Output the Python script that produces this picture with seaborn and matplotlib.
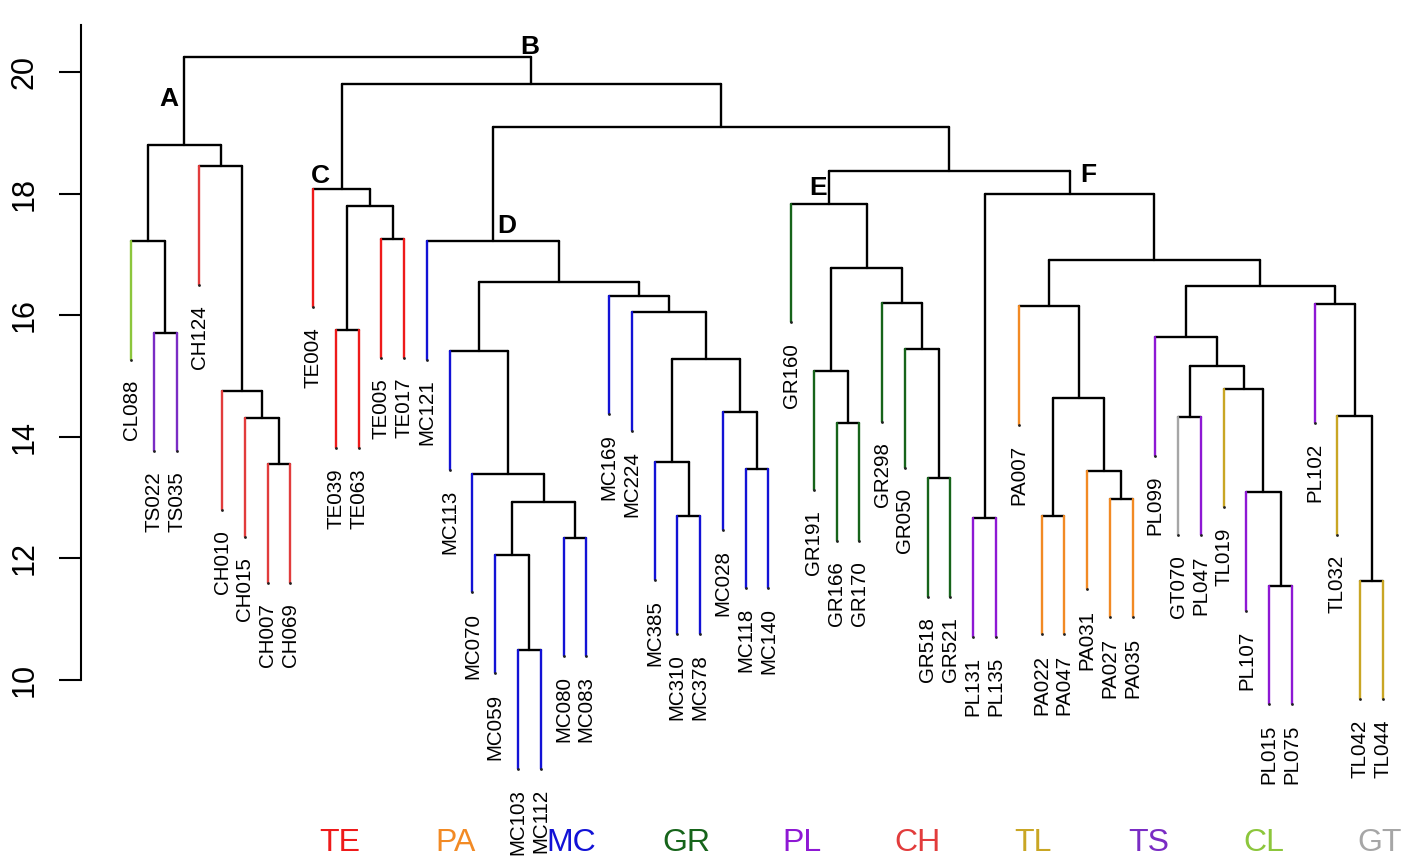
import numpy as np
import pandas as pd
import matplotlib
matplotlib.use("Agg")
import matplotlib.pyplot as plt
import seaborn as sns

# ---------------- data ----------------
LEAVES = ["CL088", "TS022", "TS035", "CH124", "CH010", "CH015", "CH007", "CH069",
          "TE004", "TE039", "TE063", "TE005", "TE017", "MC121", "MC113", "MC070",
          "MC059", "MC103", "MC112", "MC080", "MC083", "MC169", "MC224", "MC385",
          "MC310", "MC378", "MC028", "MC118", "MC140", "GR160", "GR191", "GR166",
          "GR170", "GR298", "GR050", "GR518", "GR521", "PL131", "PL135", "PA007",
          "PA022", "PA047", "PA031", "PA027", "PA035", "PL099", "GT070", "PL047",
          "TL019", "PL107", "PL015", "PL075", "PL102", "TL032", "TL042", "TL044"]

# (node, left child, right child, merge height)
MERGES = [
    ("n1", "TS022", "TS035", 15.71),
    ("n2", "CL088", "n1", 17.22),
    ("n3", "CH007", "CH069", 13.55),
    ("n4", "CH015", "n3", 14.31),
    ("n5", "CH010", "n4", 14.75),
    ("n6", "CH124", "n5", 18.45),
    ("n7", "n2", "n6", 18.80),
    ("n8", "TE039", "TE063", 15.76),
    ("n9", "TE005", "TE017", 17.25),
    ("n10", "n8", "n9", 17.80),
    ("n11", "TE004", "n10", 18.08),
    ("n12", "MC103", "MC112", 10.49),
    ("n13", "MC059", "n12", 12.06),
    ("n14", "MC080", "MC083", 12.34),
    ("n15", "n13", "n14", 12.93),
    ("n16", "MC070", "n15", 13.39),
    ("n17", "MC113", "n16", 15.41),
    ("n18", "MC310", "MC378", 12.70),
    ("n19", "MC385", "n18", 13.59),
    ("n20", "MC118", "MC140", 13.47),
    ("n21", "MC028", "n20", 14.41),
    ("n22", "n19", "n21", 15.28),
    ("n23", "MC224", "n22", 16.05),
    ("n24", "MC169", "n23", 16.32),
    ("n25", "n17", "n24", 16.55),
    ("n26", "MC121", "n25", 17.22),
    ("n27", "GR166", "GR170", 14.23),
    ("n28", "GR191", "n27", 15.08),
    ("n29", "GR518", "GR521", 13.32),
    ("n30", "GR050", "n29", 15.44),
    ("n31", "GR298", "n30", 16.20),
    ("n32", "n28", "n31", 16.78),
    ("n33", "GR160", "n32", 17.83),
    ("n34", "PL131", "PL135", 12.66),
    ("n35", "PA022", "PA047", 12.70),
    ("n36", "PA027", "PA035", 12.98),
    ("n37", "PA031", "n36", 13.44),
    ("n38", "n35", "n37", 14.64),
    ("n39", "PA007", "n38", 16.15),
    ("n40", "GT070", "PL047", 14.33),
    ("n41", "PL015", "PL075", 11.55),
    ("n42", "PL107", "n41", 13.09),
    ("n43", "TL019", "n42", 14.79),
    ("n44", "n40", "n43", 15.16),
    ("n45", "PL099", "n44", 15.64),
    ("n46", "TL042", "TL044", 11.63),
    ("n47", "TL032", "n46", 14.34),
    ("n48", "PL102", "n47", 16.18),
    ("n49", "n45", "n48", 16.48),
    ("n50", "n39", "n49", 16.91),
    ("n51", "n34", "n50", 17.99),
    ("n52", "n33", "n51", 18.37),
    ("n53", "n26", "n52", 19.10),
    ("n54", "n11", "n53", 19.80),
    ("n55", "n7", "n54", 20.25),
]
HANG = 1.95  # leaf hang below parent

GROUPS = ["TE", "PA", "MC", "GR", "PL", "CH", "TL", "TS", "CL", "GT"]
GROUP_COLORS = ["#ee1a1a", "#f28a24", "#1212d6", "#16641a", "#8e18d4",
                "#e23c3c", "#c9a624", "#7a2cc4", "#8cc63c", "#a6a6a6"]

NODE_LABELS = ["A", "B", "C", "D", "E", "F"]
NODE_OF_LABEL = ["n7", "n54", "n11", "n26", "n33", "n51"]

YTICKS = [10, 12, 14, 16, 18, 20]

# ---------------- figure ----------------
sns.set_theme(style="white")
plt.rcParams["font.family"] = ["Liberation Sans", "DejaVu Sans"]

W, H = 1418, 863
fig = plt.figure(figsize=(W / 100, H / 100), dpi=100)
ax_left = 81
ax = fig.add_axes([ax_left / W, 0, (W - ax_left) / W, 1])

pos = {name: i + 1 for i, name in enumerate(LEAVES)}
height = {}
rows = []
tips = []
seg = 0
for name, a, b, h in MERGES:
    pos[name] = (pos[a] + pos[b]) / 2
    height[name] = h
    rows += [(seg, pos[a], h, "node"), (seg, pos[b], h, "node")]
    seg += 1
    for c in (a, b):
        if c in LEAVES:
            tip = h - HANG
            grp = c[:2]
            tips.append((c, pos[c], tip))
        else:
            tip = height[c]
            grp = "node"
        rows += [(seg, pos[c], h, grp), (seg, pos[c], tip, grp)]
        seg += 1

df = pd.DataFrame(rows, columns=["seg", "x", "y", "grp"])
palette = dict(zip(GROUPS, GROUP_COLORS))
palette["node"] = "black"

sns.lineplot(data=df, x="x", y="y", units="seg", hue="grp", palette=palette,
             estimator=None, sort=False, legend=False, linewidth=1.7, ax=ax)

tip_df = pd.DataFrame(tips, columns=["name", "x", "y"])
sns.scatterplot(data=tip_df, x="x", y="y", color="#222222", s=4, linewidth=0,
                ax=ax, zorder=5)

for name, x, tip in tips:
    ax.annotate(name, (x, tip), xytext=(0, -14.5), textcoords="offset points",
                rotation=90, ha="center", va="top", fontsize=14.8, color="black")

label_offsets = [(-11.5, 33), (-1.4, 26.6), (-15.1, 9.4), (10.1, 10.8), (-7.9, 11.5), (13.7, 13.7)]
for lab, node, (dx, dy) in zip(NODE_LABELS, NODE_OF_LABEL, label_offsets):
    ax.annotate(lab, (pos[node], height[node]), xytext=(dx, dy), textcoords="offset points",
                ha="center", va="center", fontsize=19, fontweight="bold", color="black")

# scales
spacing = (1383 - 131) / 55
ax.set_xlim(1 - (131 - ax_left) / spacing, 56 + (W - 1383) / spacing)
ppu = 60.8
ax.set_ylim(10 - (H - 680) / ppu, 10 + 680 / ppu)

ax.set_xticks([])
ax.set_yticks(YTICKS)
ax.set_yticklabels([str(t) for t in YTICKS], rotation=90, va="center")
ax.tick_params(axis="y", left=True, length=15.8, width=1.5, pad=14, labelsize=22,
               color="black", labelcolor="black")
for s in ["top", "right", "bottom"]:
    ax.spines[s].set_visible(False)
ax.spines["left"].set_color("black")
ax.spines["left"].set_linewidth(1.5)
ax.spines["left"].set_bounds(10, 20.77)
ax.set_xlabel("")
ax.set_ylabel("")
ax.patch.set_alpha(0)

# group colour key
for i, (g, c) in enumerate(zip(GROUPS, GROUP_COLORS)):
    fig.text((340 + i * 115.5) / W, 1 - 843 / H, g, color=c, fontsize=23,
             ha="center", va="center")

fig.savefig("out.png", dpi=100)
